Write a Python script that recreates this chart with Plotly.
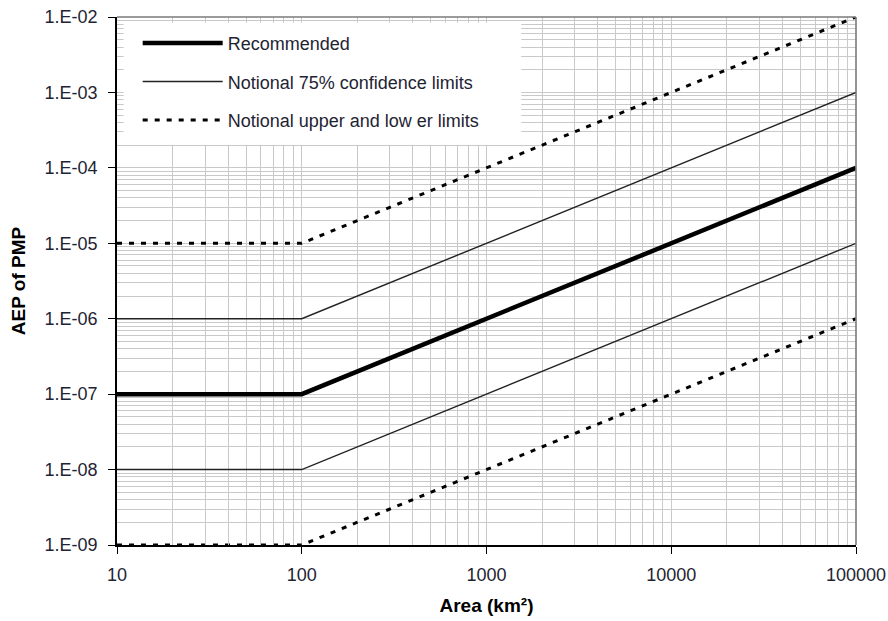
import plotly.graph_objects as go

# ---- data ----
area = [10, 100, 100000]
recommended = [1e-7, 1e-7, 1e-4]
conf_upper = [1e-6, 1e-6, 1e-3]
conf_lower = [1e-8, 1e-8, 1e-5]
limit_upper = [1e-5, 1e-5, 1e-2]
limit_lower = [1e-9, 1e-9, 1e-6]

y_tickvals = [1e-9, 1e-8, 1e-7, 1e-6, 1e-5, 1e-4, 1e-3, 1e-2]
y_ticktext = ["1.E-09", "1.E-08", "1.E-07", "1.E-06", "1.E-05", "1.E-04", "1.E-03", "1.E-02"]
x_tickvals = [10, 100, 1000, 10000, 100000]
x_ticktext = ["10", "100", "1000", "10000", "100000"]

x_minor = [m * 10 ** e for e in range(1, 5) for m in range(2, 10)]
y_minor = [m * 10.0 ** e for e in range(-9, -2) for m in range(2, 10)]

FONT = "Liberation Sans, Arial, sans-serif"
TXT = "#1e2433"
GRID = "#c9c9c9"

fig = go.Figure()

fig.add_trace(go.Scatter(
    x=area, y=recommended, mode="lines", name="Recommended",
    line=dict(color="black", width=4.5), legendgroup="a"))
fig.add_trace(go.Scatter(
    x=area + [None] + area, y=conf_upper + [None] + conf_lower, mode="lines",
    name="Notional 75% confidence limits", connectgaps=False,
    line=dict(color="#222222", width=1.4), legendgroup="b"))
fig.add_trace(go.Scatter(
    x=area + [None] + area, y=limit_upper + [None] + limit_lower, mode="lines",
    name="Notional upper and low er limits", connectgaps=False, cliponaxis=False,
    line=dict(color="black", width=3, dash="5px,7px"), legendgroup="c"))

fig.update_xaxes(
    type="log", range=[1, 5], automargin=False,
    tickmode="array", tickvals=x_tickvals, ticktext=x_ticktext,
    ticks="outside", ticklen=7, tickcolor="black", tickwidth=1.2,
    ticklabelstandoff=6,
    showline=True, linecolor="black", linewidth=1.6,
    showgrid=True, gridcolor=GRID, gridwidth=1,
    minor=dict(tickmode="array", tickvals=x_minor, showgrid=True, gridcolor=GRID,
               gridwidth=1, ticks="inside", ticklen=5, tickcolor=GRID),
    tickfont=dict(family=FONT, size=18, color=TXT),
    title=dict(text="<b>Area (km²)</b>", font=dict(family=FONT, size=19, color="black"), standoff=14),
    zeroline=False,
)
fig.update_yaxes(
    type="log", range=[-9, -2], automargin=False,
    tickmode="array", tickvals=y_tickvals, ticktext=y_ticktext,
    ticks="outside", ticklen=7, tickcolor="black", tickwidth=1.2,
    ticklabelstandoff=7,
    showline=True, linecolor="black", linewidth=1.6,
    showgrid=True, gridcolor=GRID, gridwidth=1,
    minor=dict(tickmode="array", tickvals=y_minor, showgrid=True, gridcolor=GRID,
               gridwidth=1, ticks="inside", ticklen=5, tickcolor=GRID),
    tickfont=dict(family=FONT, size=18, color=TXT),
    title=dict(text="<b>AEP of PMP</b>", font=dict(family=FONT, size=19, color="black"), standoff=14),
    zeroline=False,
)

shapes = [
    # white legend backdrop over the grid (leaves the inner minor tick stubs visible)
    dict(type="rect", xref="paper", yref="paper", x0=0.009, x1=0.547, y0=0.758, y1=0.989,
         fillcolor="white", line=dict(width=0), layer="above"),
    # gray top and right frame
    dict(type="line", xref="paper", yref="paper", x0=0, x1=1, y0=1, y1=1,
         line=dict(color="#7a7a7a", width=1.6)),
    dict(type="line", xref="paper", yref="paper", x0=1, x1=1, y0=0, y1=1,
         line=dict(color="#7a7a7a", width=1.6)),
]

fig.update_layout(
    width=888, height=621,
    margin=dict(l=117, r=32, t=17, b=76, autoexpand=False),
    paper_bgcolor="white", plot_bgcolor="white",
    font=dict(family=FONT, size=18, color=TXT),
    shapes=shapes,
    showlegend=True,
    legend=dict(x=0.028, y=0.985, xanchor="left", yanchor="top",
                bgcolor="rgba(0,0,0,0)", borderwidth=0,
                font=dict(family=FONT, size=18, color=TXT),
                itemwidth=80, tracegroupgap=12),
)

fig.write_html("out.html")
